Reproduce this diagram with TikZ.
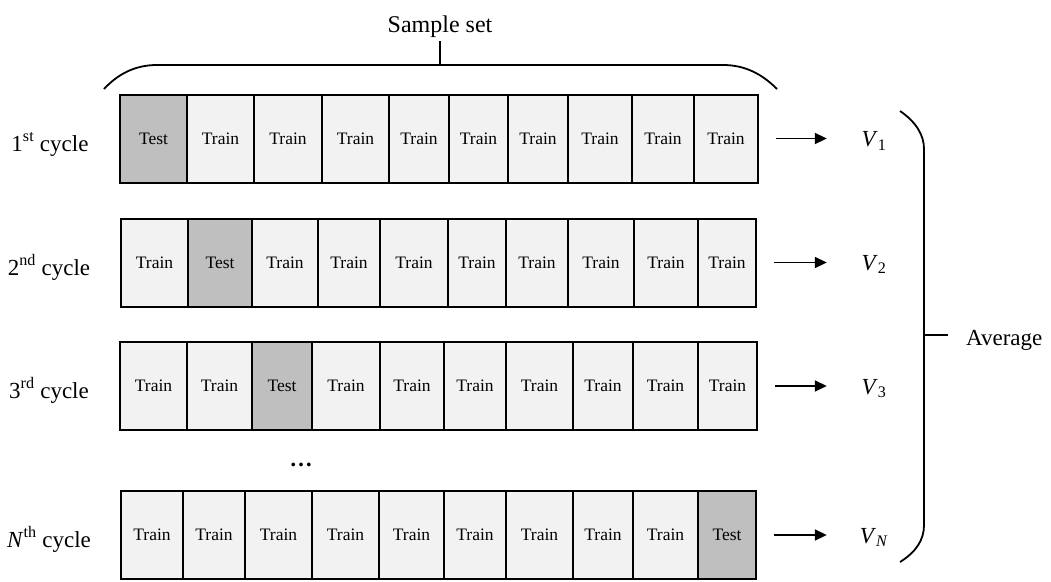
\documentclass[tikz,border=0pt]{standalone}
\usepackage{fontspec}
\setmainfont{Liberation Serif}
\usetikzlibrary{arrows.meta}
\definecolor{trainfill}{RGB}{242,242,242}
\definecolor{testfill}{RGB}{191,191,191}
\begin{document}
\begin{tikzpicture}[x=1pt,y=-1pt,
  cell/.style={draw=black, line width=2pt, fill=trainfill, inner sep=0pt, minimum height=88pt, font=\fontsize{17.5}{20}\selectfont},
  traincell/.style={},
  testcell/.style={fill=testfill},
  lbl/.style={font=\fontsize{23}{27}\selectfont, inner sep=0pt},
  arr/.style={line width=1.8pt, -{Triangle[length=12pt,width=11pt]}, shorten <=17pt, shorten >=30pt},
  brace/.style={line width=1.8pt}
]
\useasboundingbox (0,0) rectangle (1051,581);

% row 1
\foreach \a/\b/\s/\t [count=\i] in {120/187/testcell/Test,187/254/traincell/Train,254/322/traincell/Train,322/389/traincell/Train,389/449/traincell/Train,449/508/traincell/Train,508/568/traincell/Train,568/632/traincell/Train,632/694/traincell/Train,694/758/traincell/Train}
  \node[cell,\s,minimum width={\b pt-\a pt}] (r1c\i) at ({(\a+\b)/2},138.5) {\t};
% row 2
\foreach \a/\b/\s/\t [count=\i] in {121/188/traincell/Train,188/252/testcell/Test,252/318/traincell/Train,318/380/traincell/Train,380/448/traincell/Train,448/506/traincell/Train,506/568/traincell/Train,568/634/traincell/Train,634/698/traincell/Train,698/756/traincell/Train}
  \node[cell,\s,minimum width={\b pt-\a pt}] (r2c\i) at ({(\a+\b)/2},262.5) {\t};
% row 3
\foreach \a/\b/\s/\t [count=\i] in {120/187/traincell/Train,187/252/traincell/Train,252/312/testcell/Test,312/380/traincell/Train,380/444/traincell/Train,444/506/traincell/Train,506/573/traincell/Train,573/633/traincell/Train,633/698/traincell/Train,698/757/traincell/Train}
  \node[cell,\s,minimum width={\b pt-\a pt}] (r3c\i) at ({(\a+\b)/2},386) {\t};
% row N
\foreach \a/\b/\s/\t [count=\i] in {121/183/traincell/Train,183/245/traincell/Train,245/312/traincell/Train,312/379/traincell/Train,379/444/traincell/Train,444/506/traincell/Train,506/573/traincell/Train,573/633/traincell/Train,633/698/traincell/Train,698/756/testcell/Test}
  \node[cell,\s,minimum width={\b pt-\a pt}] (r4c\i) at ({(\a+\b)/2},535) {\t};

% cycle labels
\node[lbl, anchor=base] (l1) at (50,151) {1\textsuperscript{st} cycle};
\node[lbl, anchor=base] (l2) at (49,275) {2\textsuperscript{nd} cycle};
\node[lbl, anchor=base] (l3) at (49,398) {3\textsuperscript{rd} cycle};
\node[lbl, anchor=base] (l4) at (49,547) {\textit{N}\textsuperscript{th} cycle};

% dots
\node[lbl, anchor=base] (dots) at (301,466) {\textbf{…}};

% V labels
\node[lbl, anchor=base, minimum width=34pt] (v1) at (874,146.5) {\textit{V}\textsubscript{1}};
\node[lbl, anchor=base, minimum width=34pt] (v2) at (874,270) {\textit{V}\textsubscript{2}};
\node[lbl, anchor=base, minimum width=34pt] (v3) at (874,394) {\textit{V}\textsubscript{3}};
\node[lbl, anchor=base, minimum width=34pt] (v4) at (874,543) {\textit{V}\textsubscript{\textit{N}}};

% arrows
\draw[arr] (r1c10.east) -- (r1c10.east -| v1.west);
\draw[arr] (r2c10.east) -- (r2c10.east -| v2.west);
\draw[arr] (r3c10.east) -- (r3c10.east -| v3.west);
\draw[arr] (r4c10.east) -- (r4c10.east -| v4.west);

% top brace
\node[lbl, anchor=base, font=\fontsize{24}{28}\selectfont] (ss) at (440,32) {Sample set};
\coordinate (tb) at (440,65);
\coordinate (tbtop) at (440,41);
\draw[brace] (104,89) .. controls (118,74) and (135,65) .. (157,65) -- (723,65) .. controls (745,65) and (762,74) .. (777,89);
\draw[brace] (tb) -- (tbtop);

% right brace
\node[lbl, anchor=base west] (avg) at (966,345) {Average};
\coordinate (rb) at (924,335);
\coordinate (rbtip) at (948,335);
\draw[brace] (900,111) .. controls (916,122) and (924,135) .. (924,149) -- (924,525) .. controls (924,540) and (916,552) .. (900,562);
\draw[brace] (rb) -- (rbtip);
\end{tikzpicture}
\end{document}
